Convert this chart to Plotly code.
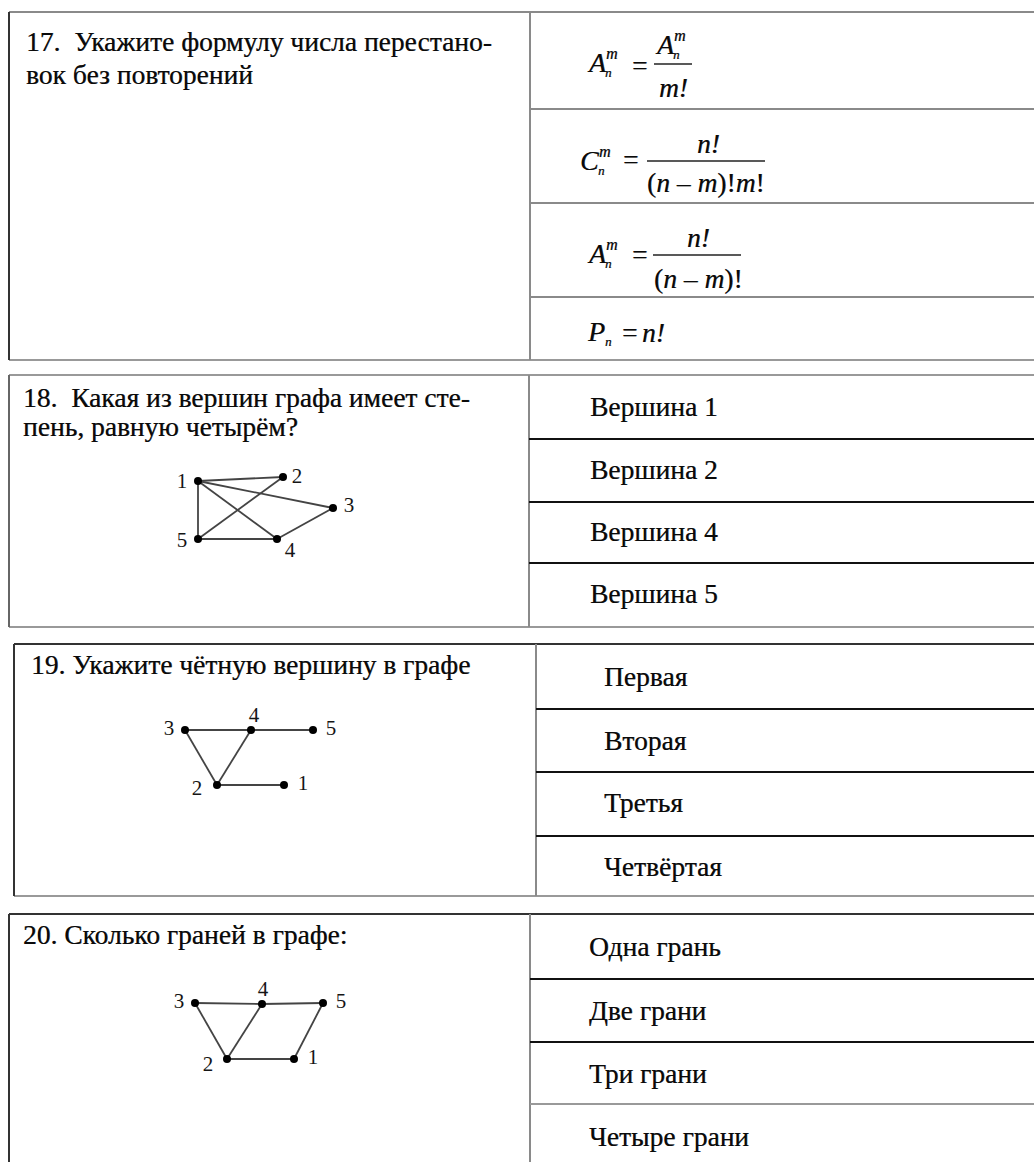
import plotly.graph_objects as go

W, H = 1034, 1162
SERIF = "Liberation Serif"
INK = "#0a0a0a"
BLUR = "0.5px 0 0.6px rgba(0,0,0,0.55)"

# ---- question texts (one entry per printed line) ----
q17_lines = ["17.  Укажите формулу числа перестано-", "вок без повторений"]
q18_lines = ["18.  Какая из вершин графа имеет сте-", "пень, равную четырём?"]
q19_lines = ["19. Укажите чётную вершину в графе"]
q20_lines = ["20. Сколько граней в графе:"]

# ---- answer options ----
ans18 = ["Вершина 1", "Вершина 2", "Вершина 4", "Вершина 5"]
ans19 = ["Первая", "Вторая", "Третья", "Четвёртая"]
ans20 = ["Одна грань", "Две грани", "Три грани", "Четыре грани"]

# ---- graphs: node positions, edges, label positions ----
g18_nodes = {1: (198, 481), 2: (283, 477), 3: (333, 508), 4: (277, 539), 5: (198, 539)}
g18_edges = [(1, 2), (1, 3), (1, 4), (1, 5), (2, 5), (3, 4), (5, 4)]
g18_labels = {1: (182, 483), 2: (297, 478), 3: (349, 507), 4: (290, 552), 5: (182, 542)}

g19_nodes = {3: (185, 730), 4: (251, 730), 5: (313, 730), 2: (217, 785), 1: (284, 785)}
g19_edges = [(3, 4), (4, 5), (3, 2), (2, 4), (2, 1)]
g19_labels = {3: (169, 730), 4: (254, 717), 5: (331, 730), 2: (197, 790), 1: (303, 785)}

g20_nodes = {3: (195, 1003), 4: (262, 1004), 5: (323, 1003), 2: (227, 1059), 1: (294, 1059)}
g20_edges = [(3, 4), (4, 5), (3, 2), (2, 4), (2, 1), (1, 5)]
g20_labels = {3: (179, 1003), 4: (263, 991), 5: (341, 1003), 2: (208, 1066), 1: (313, 1059)}

# ---- table frames: left, divider, top, bottom, row lines ----
blocks = [
    dict(left=9, div=530, top=12, bottom=360, rows=[109, 203, 297],
         row_col=["#8a8a8a", "#8a8a8a", "#8a8a8a"], top_col="#8a8a8a", left_col="#333"),
    dict(left=9, div=529, top=375, bottom=627, rows=[439, 502, 563],
         row_col=["#111", "#111", "#111"], top_col="#999", left_col="#666"),
    dict(left=14, div=536, top=644, bottom=896, rows=[709, 772, 836],
         row_col=["#111", "#111", "#111"], top_col="#333", left_col="#333"),
    dict(left=9, div=530, top=914, bottom=None, rows=[979, 1042, 1104],
         row_col=["#111", "#111", "#999"], top_col="#333", left_col="#333"),
]

fig = go.Figure()
shapes = []
annotations = []


def hline(x0, x1, y, color, width=2):
    shapes.append(dict(type="line", xref="x", yref="y", x0=x0, x1=x1, y0=y, y1=y,
                       line=dict(color=color, width=width)))


def vline(x, y0, y1, color, width=2):
    shapes.append(dict(type="line", xref="x", yref="y", x0=x, x1=x, y0=y0, y1=y1,
                       line=dict(color=color, width=width)))


def text(x, y, s, size=27.5, anchor="left", italic=False):
    if italic:
        s = "<i>" + s + "</i>"
    annotations.append(dict(x=x, y=y, xref="x", yref="y", text=s, showarrow=False,
                            xanchor=anchor, yanchor="middle",
                            font=dict(family=SERIF, size=size, color=INK, shadow=BLUR)))


for b in blocks:
    bottom = b["bottom"] if b["bottom"] is not None else H
    hline(b["left"], W, b["top"], b["top_col"])
    if b["bottom"] is not None:
        hline(b["left"], W, b["bottom"], "#999")
    vline(b["left"], b["top"], bottom, b["left_col"])
    vline(b["div"], b["top"], bottom, "#8a8a8a")
    for y, c in zip(b["rows"], b["row_col"]):
        hline(b["div"], W, y, c)

# question texts
for i, s in enumerate(q17_lines):
    text(24, 41 + 33 * i, s)
for i, s in enumerate(q18_lines):
    text(21, 397 + 29 * i, s)
for s in q19_lines:
    text(29, 664, s)
for s in q20_lines:
    text(21, 934, s)

# answers
for s, y in zip(ans18, [406, 469, 531, 593]):
    text(588, y, s)
for s, y in zip(ans19, [676, 740, 802, 866]):
    text(602, y, s)
for s, y in zip(ans20, [946, 1010, 1073, 1136]):
    text(587, y, s)


# ---- formulas for question 17 ----
def sym(x, y, letter, sup=None, sub=None, size=28):
    text(x, y, letter, size=size, italic=True)
    if sup:
        text(x + 19, y - 9, sup, size=16, italic=True)
    if sub:
        text(x + 18, y + 10, sub, size=13, italic=True)


def frac_line(x0, x1, y):
    hline(x0, x1, y, "#222", 1.5)


# A = A / m!
sym(585, 62, "A", "m", "n")
text(630, 65, "=")
sym(653, 44, "A", "m", "n")
frac_line(654, 692, 64)
text(673, 87, "m!", anchor="center", italic=True)
# C = n! / (n-m)!m!
sym(578, 160, "C", "m", "n")
text(621, 159, "=")
text(708, 143, "n!", anchor="center", italic=True)
frac_line(647, 765, 161)
text(706, 182, "(<i>n</i> – <i>m</i>)!<i>m</i>!", anchor="center")
# A = n! / (n-m)!
sym(585, 253, "A", "m", "n")
text(630, 254, "=")
text(698, 237, "n!", anchor="center", italic=True)
frac_line(653, 741, 255)
text(698, 278, "(<i>n</i> – <i>m</i>)!", anchor="center")
# P = n!
sym(585, 331, "P", None, "n")
text(620, 332, "=")
text(640, 332, "n!", italic=True)


# ---- graphs ----
def draw_graph(nodes, edges, labels):
    xs, ys = [], []
    for a, b in edges:
        xs += [nodes[a][0], nodes[b][0], None]
        ys += [nodes[a][1], nodes[b][1], None]
    fig.add_trace(go.Scatter(x=xs, y=ys, mode="lines",
                             line=dict(color="#444", width=1.8),
                             hoverinfo="skip", showlegend=False))
    keys = list(nodes)
    fig.add_trace(go.Scatter(x=[nodes[k][0] for k in keys], y=[nodes[k][1] for k in keys],
                             mode="markers", marker=dict(color="#000", size=8),
                             hoverinfo="skip", showlegend=False))
    fig.add_trace(go.Scatter(x=[labels[k][0] for k in keys], y=[labels[k][1] for k in keys],
                             mode="text", text=[str(k) for k in keys],
                             textfont=dict(family=SERIF, size=21, color="#151515"),
                             hoverinfo="skip", showlegend=False))


draw_graph(g18_nodes, g18_edges, g18_labels)
draw_graph(g19_nodes, g19_edges, g19_labels)
draw_graph(g20_nodes, g20_edges, g20_labels)

fig.update_layout(
    width=W, height=H,
    margin=dict(l=0, r=0, t=0, b=0),
    paper_bgcolor="white", plot_bgcolor="white",
    xaxis=dict(range=[0, W], visible=False, fixedrange=True),
    yaxis=dict(range=[H, 0], visible=False, fixedrange=True),
    shapes=shapes, annotations=annotations,
    showlegend=False,
)

fig.write_html("out.html", config={"displayModeBar": False},
               post_script="document.body.style.margin='0';")
